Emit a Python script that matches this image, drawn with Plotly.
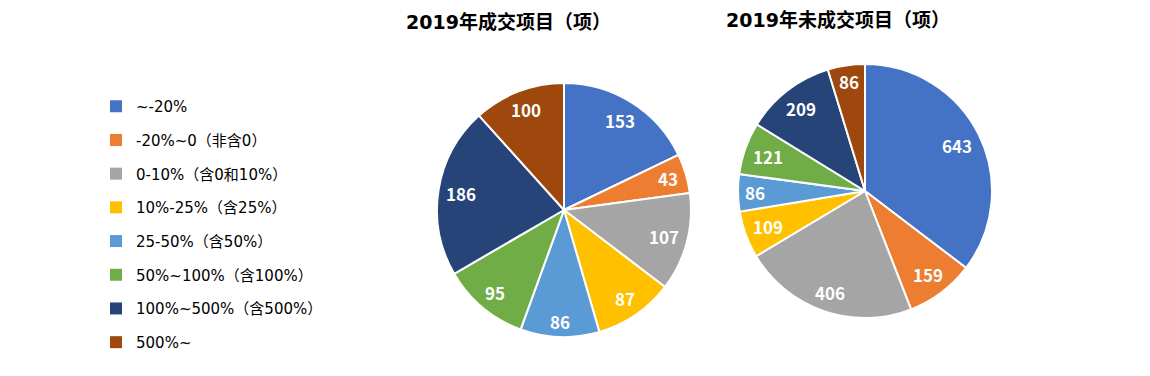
import math
import plotly.graph_objects as go

categories = ["~-20%", "-20%~0（非含0）", "0-10%（含0和10%）", "10%-25%（含25%）",
              "25-50%（含50%）", "50%~100%（含100%）", "100%~500%（含500%）", "500%~"]
done_values = [153, 43, 107, 87, 86, 95, 186, 100]
undone_values = [643, 159, 406, 109, 86, 121, 209, 86]
colors = ["#4472C4", "#ED7D31", "#A5A5A5", "#FFC000", "#5B9BD5", "#70AD47", "#264478", "#9E480E"]
titles = ["2019年成交项目（项）", "2019年未成交项目（项）"]

FONT = "Noto Sans CJK SC"
LEG_FONT = "DejaVu Sans, Noto Sans CJK SC"
W, H = 1150, 376
OFF = 8  # default body margin of the html page
R = 127
LABEL_SIZE = 17

fig = go.Figure()


def add_pie(values, cx, cy):
    px, py = cx - OFF, cy - OFF
    fig.add_trace(go.Pie(
        labels=categories, values=values, sort=False, direction="clockwise", rotation=0,
        marker=dict(colors=colors, line=dict(color="white", width=2)),
        textinfo="none", showlegend=False, hoverinfo="label+value",
        domain=dict(x=[(px - R) / W, (px + R) / W], y=[1 - (py + R) / H, 1 - (py - R) / H]),
    ))
    # data labels placed near the outer edge, like an "inside end" label
    total = sum(values)
    cum = 0
    for v in values:
        mid = (cum + v / 2) / total * 2 * math.pi
        cum += v
        s, c = math.sin(mid), math.cos(mid)
        hw = 0.29 * LABEL_SIZE * len(str(v))
        hh = 8
        d = R - 7 - (abs(s) * hw + abs(c) * hh)
        fig.add_annotation(
            text=str(v), x=(px + d * s) / W, y=1 - (py - d * c) / H,
            xref="paper", yref="paper", xanchor="center", yanchor="middle", showarrow=False,
            font=dict(family=FONT, size=LABEL_SIZE, color="white", weight="bold"),
        )


add_pie(done_values, 564, 210)
add_pie(undone_values, 865, 191)

for i, (c, col) in enumerate(zip(categories, colors)):
    fig.add_trace(go.Scatter(x=[None], y=[None], mode="markers", name=c,
                             marker=dict(symbol="square", size=6, color=col),
                             legendgroup=f"g{i}", showlegend=True))

for t, cx, cy in [(titles[0], 508, 22), (titles[1], 838, 20)]:
    fig.add_annotation(text=t, x=(cx - OFF) / W, y=1 - (cy - OFF) / H, xref="paper", yref="paper",
                       xanchor="center", yanchor="middle", showarrow=False,
                       font=dict(family="DejaVu Sans, Noto Sans CJK SC", size=19, color="#000",
                                 weight="bold"))

fig.update_layout(
    width=W, height=H, margin=dict(l=0, r=0, t=0, b=0),
    paper_bgcolor="white", plot_bgcolor="white",
    xaxis=dict(visible=False), yaxis=dict(visible=False),
    legend=dict(x=(96 - OFF) / W, y=1 - (90 - OFF) / H, xanchor="left", yanchor="top",
                font=dict(family=LEG_FONT, size=15, color="#000"),
                tracegroupgap=11.2, itemsizing="constant", bgcolor="rgba(0,0,0,0)"),
)

fig.write_html("out.html")
